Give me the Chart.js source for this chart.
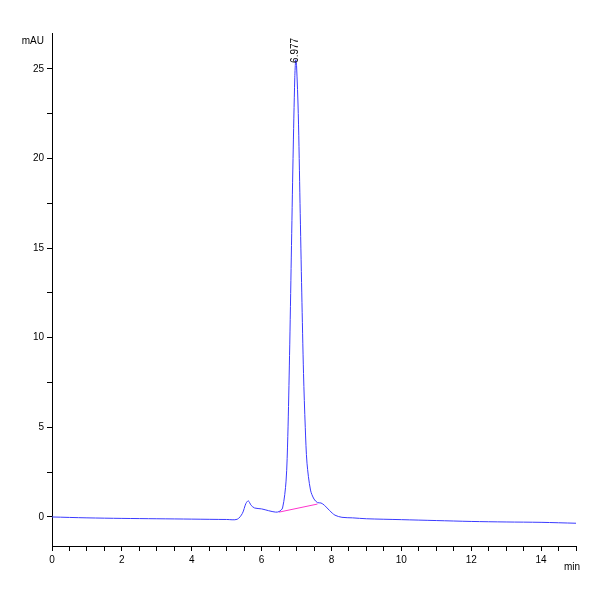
<!DOCTYPE html><html><head><script src="https://cdn.jsdelivr.net/npm/chart.js@4"></script>
<style>body{margin:0;background:#fff}#w{width:600px;height:600px}</style></head><body><div id="w"><canvas id="c"></canvas></div>
<script>
const times=[0,1,2,3,4,5,5.3,5.45,5.55,5.62,5.7,5.8,6.0,6.2,6.4,6.5,6.6,6.7,6.75,6.8,6.85,6.9,6.95,6.977,7.0,7.05,7.1,7.15,7.2,7.25,7.3,7.4,7.5,7.6,7.7,7.8,7.95,8.1,8.3,8.6,9,10,11,12,13,14,15];
const signal=[0,-0.05,-0.08,-0.1,-0.12,-0.14,-0.13,0.2,0.75,0.9,0.65,0.5,0.45,0.35,0.27,0.3,0.5,2,4.5,9,14.5,20,24.5,25.5,25.2,22.5,17.5,12.5,8,5,3,1.5,1,0.8,0.78,0.65,0.35,0.1,-0.02,-0.05,-0.1,-0.15,-0.2,-0.25,-0.28,-0.3,-0.35];
const baseX=[6.5,7.6],baseY=[0.27,0.72];
const peakLabel="6.977";
const xTicks=[];for(let v=0;v<=15;v+=0.5)xTicks.push(v);
const yTicks=[];for(let v=0;v<=27;v+=2.5)yTicks.push(v);
const F='"Liberation Sans Narrow","Liberation Sans",sans-serif';
new Chart(document.getElementById('c'),{type:'scatter',
data:{datasets:[
{data:times.map((t,i)=>({x:t,y:signal[i]})),showLine:true,borderColor:'#3a3aff',borderWidth:1,pointRadius:0,tension:0.3},
{data:baseX.map((t,i)=>({x:t,y:baseY[i]})),showLine:true,borderColor:'#ff33cc',borderWidth:1,pointRadius:0}]},
options:{animation:false,responsive:true,maintainAspectRatio:false,
layout:{padding:{left:5,top:33,right:24,bottom:0}},
plugins:{legend:{display:false},tooltip:{enabled:false}},
scales:{
x:{type:'linear',min:0,max:15,afterBuildTicks:s=>{s.ticks=xTicks.map(v=>({value:v}))},
afterFit:s=>{s.height=54},border:{color:'#000'},
grid:{drawOnChartArea:false,color:'#000',tickLength:5},
ticks:{autoSkip:false,maxRotation:0,color:'#000',font:{family:F,size:10},callback:v=>v%2===0?v:''}},
y:{min:-1.62,max:27,afterBuildTicks:s=>{s.ticks=yTicks.map(v=>({value:v}))},
afterFit:s=>{s.width=47},border:{color:'#000'},
grid:{drawOnChartArea:false,color:'#000',tickLength:5},
ticks:{autoSkip:false,color:'#000',font:{family:F,size:10},callback:v=>v%5===0?v:''}}}},
plugins:[{id:'txt',afterDraw(c){const g=c.ctx,x=c.scales.x,y=c.scales.y;g.save();g.fillStyle='#000';g.font='10px '+F;
g.textAlign='right';g.fillText('mAU',44,44);g.textAlign='left';g.fillText('min',564,570);
g.translate(x.getPixelForValue(6.977),y.getPixelForValue(25.5)+3);g.rotate(-Math.PI/2);g.textAlign='left';g.textBaseline='middle';g.fillText(peakLabel,0,0);g.restore();}}]
});
</script></body></html>
